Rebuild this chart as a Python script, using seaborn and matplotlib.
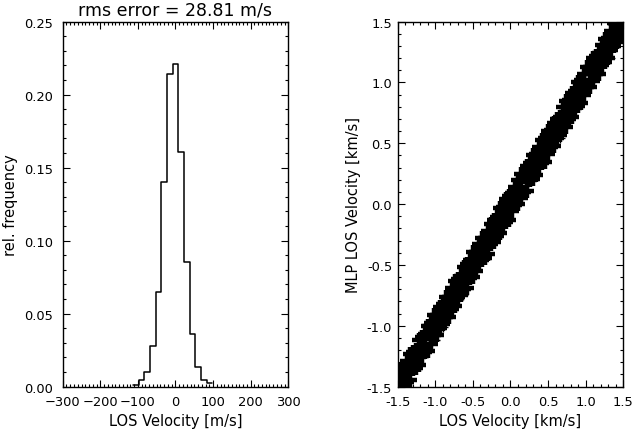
import numpy as np
import pandas as pd
import matplotlib
matplotlib.use("Agg")
import matplotlib.pyplot as plt
from matplotlib.ticker import MultipleLocator, FormatStrFormatter
import seaborn as sns

# ---------------- data ----------------
# histogram of velocity errors (m/s), bin width 15 m/s
bin_edges = [-112.5, -97.5, -82.5, -67.5, -52.5, -37.5, -22.5, -7.5, 7.5,
             22.5, 37.5, 52.5, 67.5, 82.5, 97.5]
bin_centers = [-105, -90, -75, -60, -45, -30, -15, 0, 15, 30, 45, 60, 75, 90]
rel_freq = [0.0010, 0.0045, 0.0100, 0.0280, 0.0650, 0.1400, 0.2140, 0.2210,
            0.1610, 0.0850, 0.0360, 0.0133, 0.0043, 0.0025]
rms_error = 28.81

# scatter: true LOS velocity vs MLP LOS velocity (km/s), three samples per x
los_velocity = [-1.50, -1.46, -1.42, -1.38, -1.34, -1.30, -1.26, -1.22, -1.18, -1.14,
                -1.10, -1.06, -1.02, -0.98, -0.94, -0.90, -0.86, -0.82, -0.78, -0.74,
                -0.70, -0.66, -0.62, -0.58, -0.54, -0.50, -0.46, -0.42, -0.38, -0.34,
                -0.30, -0.26, -0.22, -0.18, -0.14, -0.10, -0.06, -0.02, 0.02, 0.06,
                0.10, 0.14, 0.18, 0.22, 0.26, 0.30, 0.34, 0.38, 0.42, 0.46,
                0.50, 0.54, 0.58, 0.62, 0.66, 0.70, 0.74, 0.78, 0.82, 0.86,
                0.90, 0.94, 0.98, 1.02, 1.06, 1.10, 1.14, 1.18, 1.22, 1.26,
                1.30, 1.34, 1.38, 1.42, 1.46, 1.50]
mlp_velocity = [-1.48, -1.49, -1.41, -1.34, -1.36, -1.30, -1.23, -1.26, -1.17, -1.15,
                -1.07, -1.08, -1.00, -1.01, -0.94, -0.86, -0.87, -0.80, -0.82, -0.73,
                -0.67, -0.68, -0.62, -0.56, -0.57, -0.49, -0.47, -0.38, -0.40, -0.33,
                -0.33, -0.24, -0.22, -0.19, -0.11, -0.14, -0.04, -0.03, 0.03, 0.09,
                0.08, 0.14, 0.22, 0.19, 0.27, 0.29, 0.36, 0.36, 0.45, 0.46,
                0.46, 0.56, 0.59, 0.59, 0.70, 0.69, 0.76, 0.76, 0.82, 0.89,
                0.87, 0.95, 1.00, 0.98, 1.07, 1.10, 1.17, 1.16, 1.24, 1.25,
                1.34, 1.31, 1.39, 1.40, 1.48, 1.50]
mlp_velocity_high = [-1.42, -1.36, -1.35, -1.29, -1.23, -1.22, -1.20, -1.12, -1.09, -1.07,
                     -1.00, -0.98, -0.91, -0.91, -0.85, -0.82, -0.76, -0.76, -0.69, -0.63,
                     -0.62, -0.59, -0.52, -0.49, -0.46, -0.39, -0.39, -0.33, -0.28, -0.28,
                     -0.22, -0.16, -0.13, -0.11, -0.03, -0.02, 0.04, 0.07, 0.09, 0.14,
                     0.20, 0.25, 0.24, 0.31, 0.34, 0.40, 0.41, 0.47, 0.53, 0.54,
                     0.60, 0.61, 0.67, 0.70, 0.72, 0.80, 0.85, 0.86, 0.91, 0.93,
                     1.00, 1.02, 1.07, 1.13, 1.13, 1.20, 1.22, 1.24, 1.31, 1.36,
                     1.37, 1.42, 1.49, 1.51, 1.53, 1.58]
mlp_velocity_low = [-1.59, -1.53, -1.52, -1.46, -1.45, -1.36, -1.35, -1.32, -1.25, -1.22,
                    -1.21, -1.15, -1.08, -1.08, -1.02, -0.99, -0.93, -0.93, -0.86, -0.84,
                    -0.76, -0.75, -0.70, -0.69, -0.61, -0.60, -0.55, -0.48, -0.46, -0.44,
                    -0.41, -0.33, -0.31, -0.26, -0.24, -0.16, -0.15, -0.13, -0.06, -0.01,
                    0.00, 0.05, 0.10, 0.11, 0.20, 0.21, 0.24, 0.31, 0.34, 0.35,
                    0.41, 0.47, 0.48, 0.54, 0.57, 0.64, 0.63, 0.70, 0.72, 0.79,
                    0.81, 0.83, 0.90, 0.96, 0.96, 1.01, 1.07, 1.07, 1.14, 1.17,
                    1.20, 1.27, 1.30, 1.33, 1.40, 1.40]
# isolated points off the main band
outlier_los = [1.32, 0.66, -1.11, -0.90, -1.00, -0.63, -0.69]
outlier_mlp = [1.20, 0.54, -0.99, -1.01, -1.12, -0.75, -0.60]

# ---------------- style ----------------
sns.set_style("ticks")
plt.rcParams['font.family'] = ['DejaVu Sans']
for key in ('text.color', 'axes.labelcolor', 'xtick.color', 'ytick.color', 'axes.edgecolor'):
    plt.rcParams[key] = 'black'
plt.rcParams['axes.linewidth'] = 1.0

FS_TICK = 9.4
FS_LAB = 10.5
fig = plt.figure(figsize=(6.34, 4.39), dpi=100)
ax1 = fig.add_axes([0.0989, 0.1173, 0.3558, 0.8310])
ax2 = fig.add_axes([0.6273, 0.1173, 0.3558, 0.8310])

# ---------------- left: histogram ----------------
hist_df = pd.DataFrame({"err": bin_centers, "w": rel_freq})
sns.histplot(data=hist_df, x="err", weights="w", bins=bin_edges,
             element="step", fill=False, color="black", linewidth=1.1, ax=ax1)
ax1.set_xlim(-300, 300)
ax1.set_ylim(0, 0.25)
ax1.xaxis.set_major_locator(MultipleLocator(100))
ax1.xaxis.set_minor_locator(MultipleLocator(10))
ax1.yaxis.set_major_locator(MultipleLocator(0.05))
ax1.yaxis.set_minor_locator(MultipleLocator(0.01))
ax1.yaxis.set_major_formatter(FormatStrFormatter('%.2f'))
ax1.set_xlabel("LOS Velocity [m/s]", fontsize=FS_LAB, labelpad=4)
ax1.set_ylabel("rel. frequency", fontsize=FS_LAB, labelpad=4)
ax1.set_title(f"rms error = {rms_error:.2f} m/s", fontsize=12.5, pad=5)

# ---------------- right: scatter ----------------
scatter_df = pd.DataFrame({
    "los": los_velocity * 3,
    "mlp": mlp_velocity + mlp_velocity_high + mlp_velocity_low,
})
sns.scatterplot(data=scatter_df, x="los", y="mlp", marker="+", s=95,
                color="black", linewidth=3.2, ax=ax2)
sns.scatterplot(x=outlier_los, y=outlier_mlp, marker="+", s=45,
                color="black", linewidth=1.0, ax=ax2)
ax2.set_xlim(-1.5, 1.5)
ax2.set_ylim(-1.5, 1.5)
for axis in (ax2.xaxis, ax2.yaxis):
    axis.set_major_locator(MultipleLocator(0.5))
    axis.set_minor_locator(MultipleLocator(0.1))
    axis.set_major_formatter(FormatStrFormatter('%.1f'))
ax2.set_xlabel("LOS Velocity [km/s]", fontsize=FS_LAB, labelpad=4)
ax2.set_ylabel("MLP LOS Velocity [km/s]", fontsize=FS_LAB, labelpad=4)

for ax in (ax1, ax2):
    ax.tick_params(which='both', direction='in', top=True, right=True,
                   labelsize=FS_TICK, color='black', width=0.8)
    ax.tick_params(which='major', length=5)
    ax.tick_params(which='minor', length=2.5)
    ax.tick_params(axis='x', which='major', pad=6)
    for sp in ax.spines.values():
        sp.set_visible(True)
        sp.set_color('black')
ax1.tick_params(axis='y', which='major', pad=7)
ax2.tick_params(axis='y', which='major', pad=4)

fig.savefig("out.png", dpi=100)
